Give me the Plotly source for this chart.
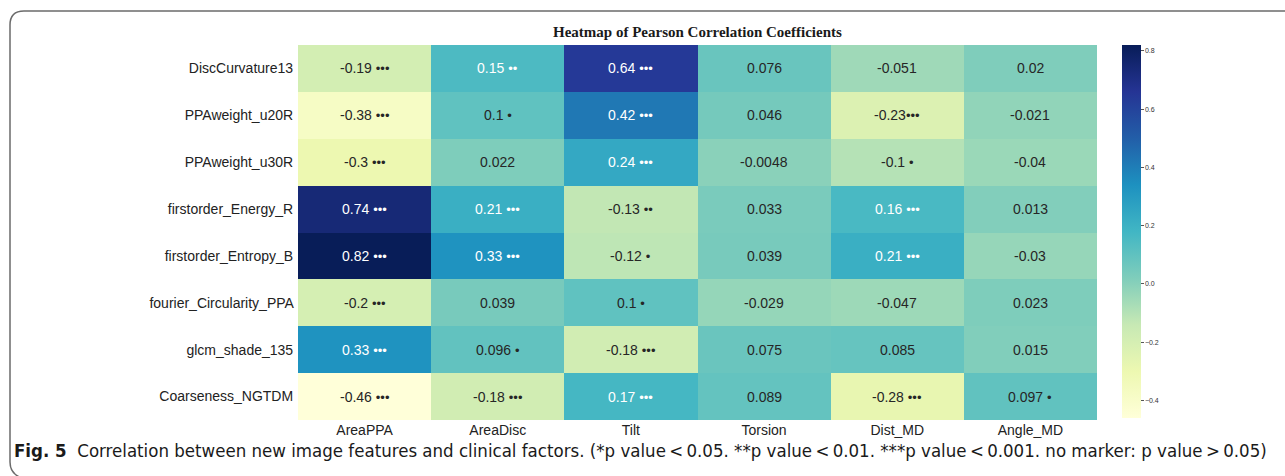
import plotly.graph_objects as go

# Correlation matrix: clinical factors (columns) vs. image features (rows)
features = [
    "DiscCurvature13",
    "PPAweight_u20R",
    "PPAweight_u30R",
    "firstorder_Energy_R",
    "firstorder_Entropy_B",
    "fourier_Circularity_PPA",
    "glcm_shade_135",
    "Coarseness_NGTDM",
]
factors = ["AreaPPA", "AreaDisc", "Tilt", "Torsion", "Dist_MD", "Angle_MD"]

r_disc_curv = [-0.19, 0.15, 0.64, 0.076, -0.051, 0.02]
r_ppa_u20 = [-0.38, 0.1, 0.42, 0.046, -0.23, -0.021]
r_ppa_u30 = [-0.3, 0.022, 0.24, -0.0048, -0.1, -0.04]
r_energy = [0.74, 0.21, -0.13, 0.033, 0.16, 0.013]
r_entropy = [0.82, 0.33, -0.12, 0.039, 0.21, -0.03]
r_circ = [-0.2, 0.039, 0.1, -0.029, -0.047, 0.023]
r_shade = [0.33, 0.096, -0.18, 0.075, 0.085, 0.015]
r_coarse = [-0.46, -0.18, 0.17, 0.089, -0.28, 0.097]

# number of significance stars per cell
sig_disc_curv = [3, 2, 3, 0, 0, 0]
sig_ppa_u20 = [3, 1, 3, 0, 3, 0]
sig_ppa_u30 = [3, 0, 3, 0, 1, 0]
sig_energy = [3, 3, 2, 0, 3, 0]
sig_entropy = [3, 3, 1, 0, 3, 0]
sig_circ = [3, 0, 1, 0, 0, 0]
sig_shade = [3, 1, 3, 0, 0, 0]
sig_coarse = [3, 3, 3, 0, 3, 1]

colorbar_ticks = [-0.4, -0.2, 0.0, 0.2, 0.4, 0.6, 0.8]

z = [r_disc_curv, r_ppa_u20, r_ppa_u30, r_energy, r_entropy, r_circ, r_shade, r_coarse]
sig = [sig_disc_curv, sig_ppa_u20, sig_ppa_u30, sig_energy, sig_entropy, sig_circ,
       sig_shade, sig_coarse]

ylgnbu = [
    [0.0, "#ffffd9"], [0.125, "#edf8b1"], [0.25, "#c7e9b4"], [0.375, "#7fcdbb"],
    [0.5, "#41b6c4"], [0.625, "#1d91c0"], [0.75, "#225ea8"], [0.875, "#253494"],
    [1.0, "#081d58"],
]

W, H = 1285, 476
L, R, T, B = 298, 1097, 45, 420  # plot area in pixels


def px(x):
    return (x - L) / (R - L)


def py(y):
    return (B - y) / (B - T)


zmin = min(min(row) for row in z)
zmax = max(max(row) for row in z)

fig = go.Figure(
    go.Heatmap(
        z=z,
        x=factors,
        y=features,
        colorscale=ylgnbu,
        zmin=zmin,
        zmax=zmax,
        xgap=0,
        ygap=0,
        hoverinfo="skip",
        colorbar=dict(
            x=px(1122),
            xanchor="left",
            xpad=0,
            y=1.0,
            yanchor="top",
            ypad=0,
            len=(418 - T) / (B - T),
            lenmode="fraction",
            thickness=19,
            thicknessmode="pixels",
            outlinewidth=0,
            tickvals=colorbar_ticks,
            tickformat=".1f",
            ticks="outside",
            ticklen=3,
            tickwidth=1,
            tickcolor="#555",
            tickfont=dict(family="Liberation Sans, Arial, sans-serif", size=7, color="#333"),
        ),
    )
)

# cell annotations: value plus significance stars
for i, feat in enumerate(features):
    for j, fac in enumerate(factors):
        v = z[i][j]
        n = sig[i][j]
        label = f"{v:g}"
        if n:
            gap = "" if (feat, fac) == ("PPAweight_u20R", "Dist_MD") else " "
            label += gap + "<span style='font-size:13px'>" + "•" * n + "</span>"
        color = "#ffffff" if v > 0.12 else "#262626"
        fig.add_annotation(
            x=fac, y=feat, text=label, showarrow=False,
            font=dict(family="Liberation Sans, Arial, sans-serif", size=14, color=color),
        )

# chart title
fig.add_annotation(
    x=0.5, y=py(32), xref="paper", yref="paper", xanchor="center", yanchor="middle",
    text="<b>Heatmap of Pearson Correlation Coefficients</b>", showarrow=False,
    font=dict(family="Liberation Serif, Times New Roman, serif", size=15, color="#1a1a1a"),
)

# figure caption
ts = "\u2009"
fig.add_annotation(
    x=px(12), y=py(450), xref="paper", yref="paper", xanchor="left", yanchor="middle",
    text=("<b>Fig. 5</b>  Correlation between new image features and clinical factors. "
          f"(*p value{ts}<{ts}0.05. **p value{ts}<{ts}0.01. ***p value{ts}<{ts}0.001. "
          f"no marker: p value{ts}>{ts}0.05)"),
    showarrow=False,
    font=dict(family="Liberation Sans Narrow, DejaVu Sans Condensed, Arial Narrow, sans-serif",
              size=18.5, color="#1a1a1a"),
)

# rounded frame around the figure
frame = (
    f"M {px(1300)} {py(11)} L {px(24)} {py(11)} "
    f"Q {px(10)} {py(11)} {px(10)} {py(25)} "
    f"L {px(10)} {py(462)} Q {px(10)} {py(474)} {px(22)} {py(478)}"
)
fig.add_shape(type="path", path=frame, xref="paper", yref="paper",
              line=dict(color="#6b6b6b", width=1.5))

fig.update_xaxes(
    showgrid=False, zeroline=False, ticks="", showline=False,
    tickfont=dict(family="Liberation Sans, Arial, sans-serif", size=14, color="#222"),
)
fig.update_yaxes(
    autorange="reversed", showgrid=False, zeroline=False, ticks="", showline=False,
    ticksuffix=" ",
    tickfont=dict(family="Liberation Sans, Arial, sans-serif", size=14, color="#222"),
)

fig.update_layout(
    width=W, height=H,
    margin=dict(l=L, r=W - R, t=T, b=H - B, pad=0),
    paper_bgcolor="white",
    plot_bgcolor="white",
)

fig.write_html("out.html")
